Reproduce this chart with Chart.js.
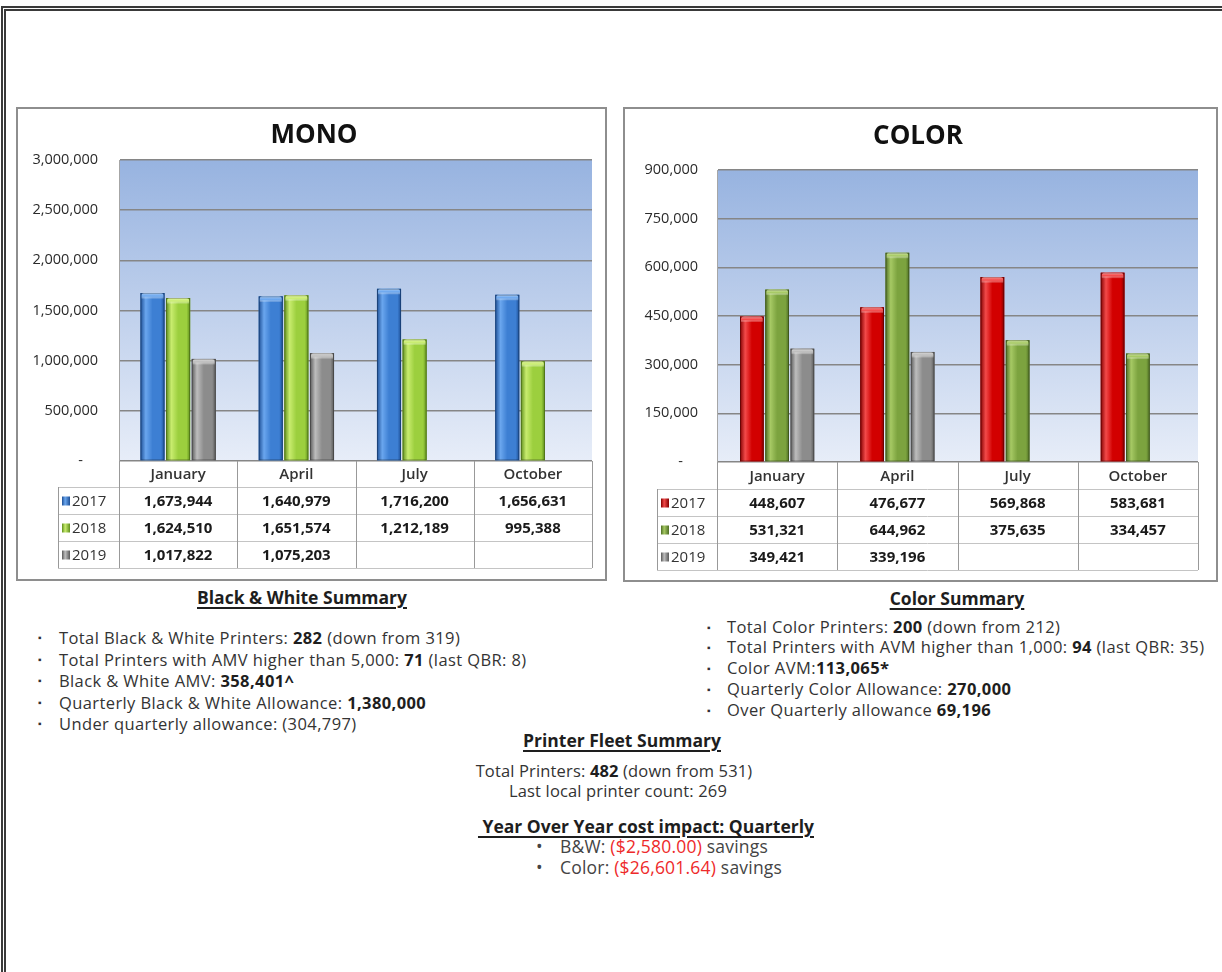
<!DOCTYPE html>
<html>
<head>
<meta charset="utf-8">
<script src="https://cdn.jsdelivr.net/npm/chart.js@4.4.1/dist/chart.umd.min.js"></script>
<style>
  html, body { margin: 0; padding: 0; background: #fff; width: 1222px; height: 972px; overflow: hidden; }
  body { font-family: "Open Sans", sans-serif; color: #333; position: relative; }
  .frame { position: absolute; left: 1px; top: 6px; width: 1400px; height: 1200px;
           border-top: 5px double #3a3a3a; border-left: 5px double #3a3a3a; }
  .box { position: absolute; border: 2px solid #8e8e8e; box-sizing: border-box; background: #fff; }
  canvas { position: absolute; }
  .title { position: absolute; width: 300px; text-align: center; font-weight: 700; font-size: 26px;
           line-height: 32px; color: #111; }
  .head { position: absolute; text-align: center; font-weight: 700; font-size: 17.5px; line-height: 22px;
          color: #1e1e1e; white-space: nowrap; }
  .head span { text-decoration: underline; text-underline-offset: 3px; text-decoration-thickness: 1.5px; }
  .list { position: absolute; font-size: 16.5px; letter-spacing: 0.4px; color: #333; white-space: nowrap; }
  .list div { position: relative; }
  .list .dot { position: absolute; font-size: 10px; letter-spacing: 0; }
  .center { position: absolute; text-align: center; font-size: 16.5px; letter-spacing: 0.15px; line-height: 21px;
            color: #333; white-space: nowrap; }
  b { font-weight: 700; color: #1e1e1e; }
  .neg { color: #ee2a2a; }
</style>
</head>
<body>
<div class="frame"></div>

<div class="box" style="left:16px;top:107px;width:591px;height:474px;"></div>
<div class="box" style="left:623px;top:107px;width:595px;height:475px;"></div>
<canvas id="mono" width="587" height="470" style="left:18px;top:109px;"></canvas>
<canvas id="color" width="591" height="471" style="left:625px;top:109px;"></canvas>
<div class="title" style="left:164px;top:117px;">MONO</div>
<div class="title" style="left:768px;top:118px;">COLOR</div>

<div class="head" style="left:102px;top:586px;width:400px;"><span>Black &amp; White Summary</span></div>
<div class="list" style="left:38px;top:627px;line-height:21.5px;">
  <div><span class="dot" style="left:0">&#9642;</span><span style="margin-left:21px">Total Black &amp; White Printers: <b>282</b> (down from 319)</span></div>
  <div><span class="dot" style="left:0">&#9642;</span><span style="margin-left:21px">Total Printers with AMV higher than 5,000: <b>71</b> (last QBR: 8)</span></div>
  <div><span class="dot" style="left:0">&#9642;</span><span style="margin-left:21px">Black &amp; White AMV: <b>358,401^</b></span></div>
  <div><span class="dot" style="left:0">&#9642;</span><span style="margin-left:21px">Quarterly Black &amp; White Allowance: <b>1,380,000</b></span></div>
  <div><span class="dot" style="left:0">&#9642;</span><span style="margin-left:21px">Under quarterly allowance: (304,797)</span></div>
</div>

<div class="head" style="left:757px;top:587px;width:400px;"><span>Color Summary</span></div>
<div class="list" style="left:707px;top:616.5px;line-height:20.75px;">
  <div><span class="dot" style="left:0">&#9642;</span><span style="margin-left:20px">Total Color Printers: <b>200</b> (down from 212)</span></div>
  <div><span class="dot" style="left:0">&#9642;</span><span style="margin-left:20px">Total Printers with AVM higher than 1,000: <b>94</b> (last QBR: 35)</span></div>
  <div><span class="dot" style="left:0">&#9642;</span><span style="margin-left:20px">Color AVM:<b>113,065*</b></span></div>
  <div><span class="dot" style="left:0">&#9642;</span><span style="margin-left:20px">Quarterly Color Allowance: <b>270,000</b></span></div>
  <div><span class="dot" style="left:0">&#9642;</span><span style="margin-left:20px">Over Quarterly allowance <b>69,196</b></span></div>
</div>

<div class="head" style="left:422px;top:729px;width:400px;"><span>Printer Fleet Summary</span></div>
<div class="center" style="left:414px;top:760px;width:400px;">Total Printers: <b>482</b> (down from 531)</div>
<div class="center" style="left:418px;top:780px;width:400px;">Last local printer count: 269</div>

<div class="head" style="left:446px;top:815px;width:400px;"><span>&nbsp;Year Over Year cost impact: Quarterly</span></div>
<div class="list" style="left:536px;top:836px;line-height:21px;font-size:17.5px;letter-spacing:0.2px;color:#444;">
  <div><span style="position:absolute;left:0">&#8226;</span><span style="margin-left:24px">B&amp;W: <span class="neg">($2,580.00)</span> savings</span></div>
  <div><span style="position:absolute;left:0">&#8226;</span><span style="margin-left:24px">Color: <span class="neg">($26,601.64)</span> savings</span></div>
</div>

<script>
// Quarterly page counts per year
const months = ['January', 'April', 'July', 'October'];
const years = ['2017', '2018', '2019'];

const mono2017 = [1673944, 1640979, 1716200, 1656631];
const mono2018 = [1624510, 1651574, 1212189, 995388];
const mono2019 = [1017822, 1075203, null, null];

const color2017 = [448607, 476677, 569868, 583681];
const color2018 = [531321, 644962, 375635, 334457];
const color2019 = [349421, 339196, null, null];

// Value-axis tick labels
const monoTicks = [0, 500000, 1000000, 1500000, 2000000, 2500000, 3000000];
const colorTicks = [0, 150000, 300000, 450000, 600000, 750000, 900000];

// Bar shading palettes (dark edge, highlight, body, cap)
const palettes = {
  blue:  { dark: '#1d4f96', light: '#6aa6ee', base: '#3d7fd3', cap: '#a9cdf7' },
  lime:  { dark: '#5f8f1c', light: '#c8ec6e', base: '#9ccf3e', cap: '#e3f7a8' },
  gray:  { dark: '#595959', light: '#bdbdbd', base: '#8c8c8c', cap: '#dcdcdc' },
  red:   { dark: '#840000', light: '#f24a4a', base: '#d20000', cap: '#ff9a9a' },
  olive: { dark: '#4e6e24', light: '#a6c964', base: '#7ca33f', cap: '#cfe6a4' }
};

const fmt = v => v.toLocaleString('en-US');

// Plot-area gradient fill
const plotBackground = {
  id: 'plotBackground',
  beforeDraw(chart) {
    const { ctx, chartArea: { left, right, top, bottom } } = chart;
    const g = ctx.createLinearGradient(0, top, 0, bottom);
    g.addColorStop(0, '#97b3e0');
    g.addColorStop(1, '#e7edf8');
    ctx.save();
    ctx.fillStyle = g;
    ctx.fillRect(left, top, right - left, bottom - top);
    ctx.restore();
  }
};

// Cylinder-like shading painted over each bar element
const barShading = {
  id: 'barShading',
  afterDatasetsDraw(chart) {
    const ctx = chart.ctx;
    ctx.save();
    chart.data.datasets.forEach((ds, di) => {
      const meta = chart.getDatasetMeta(di);
      const p = palettes[ds.shade];
      meta.data.forEach((bar, i) => {
        if (ds.data[i] == null) return;
        const { x, y, base, width } = bar.getProps(['x', 'y', 'base', 'width'], true);
        const l = x - width / 2;
        const g = ctx.createLinearGradient(l, 0, l + width, 0);
        g.addColorStop(0, p.dark);
        g.addColorStop(0.22, p.light);
        g.addColorStop(0.5, p.base);
        g.addColorStop(0.85, p.base);
        g.addColorStop(1, p.dark);
        ctx.fillStyle = g;
        ctx.fillRect(l, y, width, base - y);
        const cg = ctx.createLinearGradient(0, y, 0, y + 6);
        cg.addColorStop(0, p.cap);
        cg.addColorStop(0.5, p.light);
        cg.addColorStop(1, 'rgba(255,255,255,0)');
        ctx.fillStyle = cg;
        ctx.beginPath();
        ctx.roundRect(l + 1, y, width - 2, 6, [3, 3, 0, 0]);
        ctx.fill();
        ctx.strokeStyle = 'rgba(0,0,0,0.25)';
        ctx.lineWidth = 1;
        ctx.strokeRect(l + 0.5, y + 0.5, width - 1, base - y - 1);
      });
    });
    ctx.restore();
  }
};

// Data table under the plot, aligned to the category scale
const dataTable = {
  id: 'dataTable',
  afterDraw(chart, args, opts) {
    const { ctx, chartArea: { left, right, bottom } } = chart;
    const xs = chart.scales.x;
    const n = chart.data.labels.length;
    const cw = (right - left) / n;
    const headH = opts.headH, rowH = opts.rowH;
    const legL = left - opts.legendW;
    const rows = chart.data.datasets.length;
    const end = bottom + headH + rowH * rows;
    ctx.save();
    ctx.lineWidth = 1;
    ctx.strokeStyle = '#c4c4c4';
    for (let r = 0; r <= rows; r++) {
      const y = Math.round(bottom + headH + r * rowH) + 0.5;
      ctx.beginPath(); ctx.moveTo(legL, y); ctx.lineTo(right, y); ctx.stroke();
    }
    ctx.strokeStyle = '#999';
    for (let k = 0; k <= n; k++) {
      const x = Math.round(k < n ? xs.getPixelForValue(k) - cw / 2 : right) + 0.5;
      ctx.beginPath(); ctx.moveTo(x, bottom); ctx.lineTo(x, end); ctx.stroke();
    }
    const lx = Math.round(legL) + 0.5;
    ctx.beginPath(); ctx.moveTo(lx, bottom + headH); ctx.lineTo(lx, end); ctx.stroke();

    ctx.textBaseline = 'middle';
    ctx.textAlign = 'center';
    ctx.fillStyle = '#333';
    ctx.font = '600 15px "Open Sans"';
    chart.data.labels.forEach((lab, i) => {
      ctx.fillText(lab, xs.getPixelForValue(i), bottom + headH / 2 + 1);
    });
    chart.data.datasets.forEach((ds, r) => {
      const cy = bottom + headH + r * rowH + rowH / 2 + 1;
      const p = palettes[ds.shade];
      const sg = ctx.createLinearGradient(legL + 4, 0, legL + 12, 0);
      sg.addColorStop(0, p.dark); sg.addColorStop(0.4, p.light); sg.addColorStop(1, p.dark);
      ctx.fillStyle = sg;
      ctx.fillRect(legL + 4, cy - 5, 8, 9);
      ctx.fillStyle = '#333';
      ctx.textAlign = 'left';
      ctx.font = '15px "Open Sans"';
      ctx.fillText(ds.label, legL + 14, cy);
      ctx.textAlign = 'center';
      ctx.font = 'bold 15px "Open Sans"';
      ctx.fillStyle = '#1a1a1a';
      ds.data.forEach((v, i) => {
        if (v == null) return;
        ctx.fillText(fmt(v), xs.getPixelForValue(i), cy);
      });
    });
    ctx.restore();
  }
};

function makeChart(id, series, shades, ticks, geo) {
  return new Chart(document.getElementById(id), {
    type: 'bar',
    data: {
      labels: months,
      datasets: series.map((d, i) => ({
        label: years[i],
        data: d,
        shade: shades[i],
        backgroundColor: palettes[shades[i]].base,
        categoryPercentage: geo.cat,
        barPercentage: geo.bar
      }))
    },
    options: {
      responsive: false,
      animation: false,
      layout: { padding: { left: 0, right: geo.padR, top: geo.padT, bottom: geo.padB } },
      plugins: {
        legend: { display: false },
        tooltip: { enabled: false },
        title: { display: false },
        dataTable: { headH: geo.headH, rowH: geo.rowH, legendW: geo.legendW }
      },
      scales: {
        x: { display: false },
        y: {
          min: ticks[0], max: ticks[ticks.length - 1],
          afterBuildTicks: axis => { axis.ticks = ticks.map(v => ({ value: v })); },
          afterFit: axis => { axis.width = geo.axisW; },
          border: { display: true, color: '#a6a6a6', width: 1 },
          grid: { color: '#868686', lineWidth: 1.4, drawTicks: false },
          ticks: {
            padding: geo.tickPad, color: '#2a2a2a',
            font: { family: 'Open Sans', size: 14.5 },
            callback: v => v === 0 ? '-    ' : fmt(v)
          }
        }
      }
    },
    plugins: [plotBackground, barShading, dataTable]
  });
}

makeChart('mono', [mono2017, mono2018, mono2019], ['blue', 'lime', 'gray'], monoTicks,
  { padT: 51, padR: 13, padB: 118, axisW: 101, tickPad: 21,
    cat: 0.65, bar: 0.94, headH: 26, rowH: 27, legendW: 61 });

makeChart('color', [color2017, color2018, color2019], ['red', 'olive', 'gray'], colorTicks,
  { padT: 61, padR: 18, padB: 118, axisW: 92, tickPad: 19,
    cat: 0.63, bar: 0.94, headH: 27, rowH: 27, legendW: 60 });
</script>
</body>
</html>
